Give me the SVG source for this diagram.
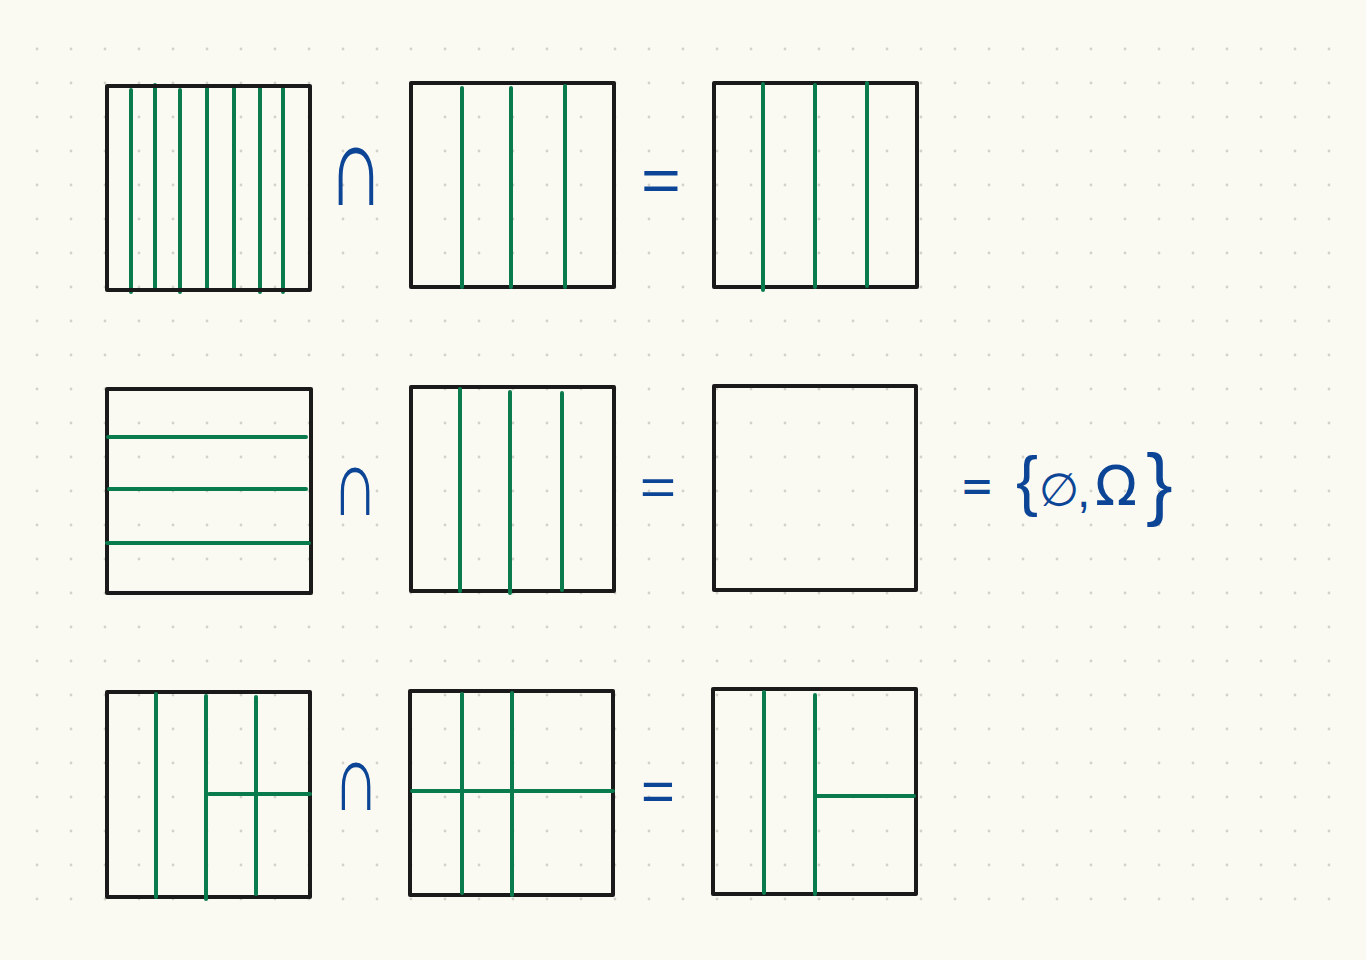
<svg xmlns="http://www.w3.org/2000/svg" width="1366" height="960" viewBox="0 0 1366 960">
<defs>
<pattern id="dots" patternUnits="userSpaceOnUse" x="20" y="32" width="34" height="34">
<circle cx="17" cy="17" r="1.4" fill="#d2d2ca"/>
</pattern>
<style>
.box{fill:none;stroke:#1a1a1a;stroke-width:4;stroke-linejoin:round}
.g{stroke:#0a7b4d;stroke-width:4;stroke-linecap:round;fill:none}
.op{fill:#0c4596;font-family:"Liberation Sans","DejaVu Sans",sans-serif;text-anchor:middle}
.opd{fill:#0c4596;font-family:"DejaVu Sans",sans-serif;text-anchor:middle}
.res{fill:#0c4596;font-family:"Liberation Sans","DejaVu Sans",sans-serif}
</style>
</defs>
<rect width="1366" height="960" fill="#fafaf2"/>
<rect x="20" y="32" width="1326" height="884" fill="url(#dots)"/>

<g id="connectors"/>

<!-- Row 1 -->
<g id="r1-a">
<path class="g" d="M131 90V292M155 85V289M180 90V292M207 87V289M234 87V289M260 87V292M283 87V292"/>
<rect class="box" x="107" y="86" width="203" height="204"/>
</g>
<g id="r1-cap"><text class="op" transform="translate(356,205) scale(0.68,1)" font-size="114">∩</text></g>
<g id="r1-b">
<rect class="box" x="411" y="83" width="203" height="204"/>
<path class="g" d="M462 88V287M511 88V287M565 86V287"/>
</g>
<g id="r1-eq"><text class="op" transform="translate(661,201) scale(1.1,1)" font-size="62">=</text></g>
<g id="r1-c">
<rect class="box" x="714" y="83" width="203" height="204"/>
<path class="g" d="M763 84V290M815 85V287M867 83V286"/>
</g>

<!-- Row 2 -->
<g id="r2-a">
<rect class="box" x="107" y="389" width="204" height="204"/>
<path class="g" d="M108 437H306M109 489H306M107 543H309"/>
</g>
<g id="r2-cap"><text class="op" transform="translate(355,515) scale(0.68,1)" font-size="94">∩</text></g>
<g id="r2-b">
<rect class="box" x="411" y="387" width="203" height="204"/>
<path class="g" d="M460 389V591M510 392V593M562 393V590"/>
</g>
<g id="r2-eq"><text class="op" transform="translate(658,505) scale(1.2,1)" font-size="52">=</text></g>
<g id="r2-c">
<rect class="box" x="714" y="386" width="202" height="204"/>
</g>
<g id="r2-result">
<text class="opd" transform="translate(977,502.5) scale(0.8,1)" font-size="50">=</text>
<text class="res" y="503"><tspan x="1016" font-size="66">{</tspan><tspan x="1039" y="506" font-size="46" style="font-family:'DejaVu Sans',sans-serif">∅</tspan><tspan x="1077" y="507" font-size="48">,</tspan><tspan x="1095" y="505" font-size="55" style="font-family:'DejaVu Sans',sans-serif">Ω</tspan><tspan x="1146" y="510" font-size="80">}</tspan></text>
</g>

<!-- Row 3 -->
<g id="r3-a">
<rect class="box" x="107" y="692" width="203" height="205"/>
<path class="g" d="M156 694V897M206 696V899M256 697V894M209 794H310"/>
</g>
<g id="r3-cap"><text class="op" transform="translate(356,810) scale(0.68,1)" font-size="94">∩</text></g>
<g id="r3-b">
<rect class="box" x="410" y="691" width="203" height="204"/>
<path class="g" d="M462 694V893M512 693V895M412 791H613"/>
</g>
<g id="r3-eq"><text class="op" transform="translate(658,811)" font-size="58">=</text></g>
<g id="r3-c">
<rect class="box" x="713" y="689" width="203" height="205"/>
<path class="g" d="M764 692V893M815 695V894M817 796H914"/>
</g>
</svg>
